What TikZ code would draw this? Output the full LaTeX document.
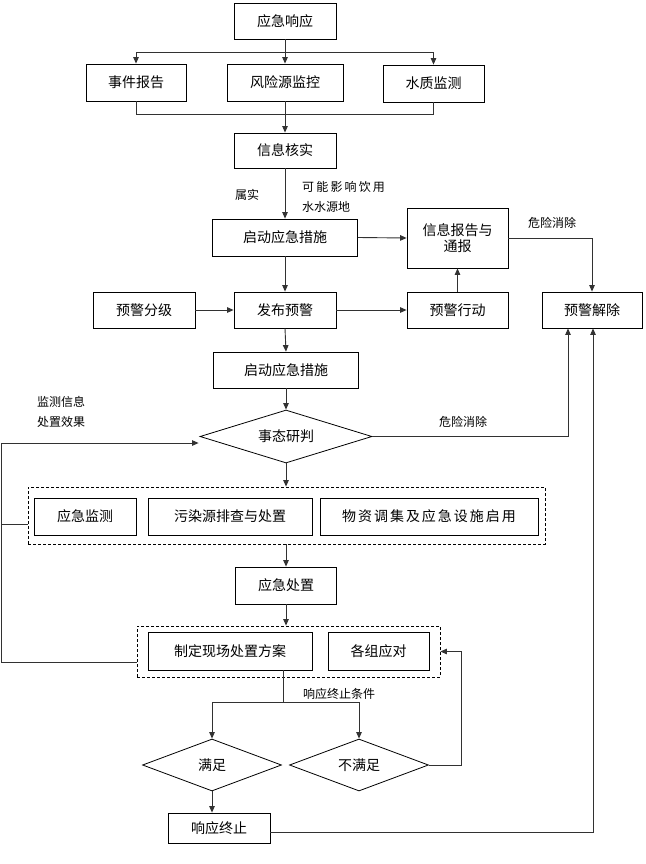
\documentclass[tikz,border=0pt]{standalone}
\usepackage{fontspec}
\setmainfont{Noto Sans CJK SC}
\usetikzlibrary{shapes.geometric,arrows.meta}
\begin{document}
\begin{tikzpicture}[x=1pt,y=-1pt,
  box/.style={draw=black, line width=0.8pt, inner sep=0pt, font=\fontsize{14}{16}\selectfont, align=center},
  dia/.style={draw=black, line width=0.8pt, diamond, aspect=3, inner sep=0pt, font=\fontsize{14}{16}\selectfont},
  dbox/.style={draw=black, line width=0.8pt, dash pattern=on 3pt off 2pt, inner sep=0pt},
  lab/.style={font=\fontsize{12}{14}\selectfont, inner sep=0pt},
  con/.style={draw={rgb,255:red,50;green,50;blue,50}, line width=0.9pt},
  arr/.style={con, -{Triangle[length=6.5pt,width=5.5pt]}}
]
\useasboundingbox (0,0) rectangle (645,864);
% nodes
\node[box, minimum width=102pt, minimum height=36pt] (r) at (285,21) {应急响应};
\node[box, minimum width=100pt, minimum height=37pt] (a1) at (136,82.5) {事件报告};
\node[box, minimum width=116pt, minimum height=37pt] (a2) at (285,82.5) {风险源监控};
\node[box, minimum width=101pt, minimum height=37pt] (a3) at (433.5,83.5) {水质监测};
\node[box, minimum width=102pt, minimum height=35pt] (v) at (285,150.5) {信息核实};
\node[box, minimum width=145pt, minimum height=37pt] (s1) at (285,237.5) {启动应急措施};
\node[box, minimum width=101pt, minimum height=60pt] (rep) at (457.5,238) {信息报告与\\通报};
\node[box, minimum width=102pt, minimum height=36pt] (g) at (144,310) {预警分级};
\node[box, minimum width=102pt, minimum height=36pt] (p) at (285,310) {发布预警};
\node[box, minimum width=101pt, minimum height=36pt] (act) at (457.5,310) {预警行动};
\node[box, minimum width=100pt, minimum height=36pt] (lift) at (592,310) {预警解除};
\node[box, minimum width=145pt, minimum height=36pt] (s2) at (286,370) {启动应急措施};
\node[dia, minimum width=172pt, minimum height=53pt] (d) at (286,436.5) {事态研判};
\node[dbox, minimum width=517pt, minimum height=57pt] (dash1) at (286.5,515.5) {};
\node[box, minimum width=102pt, minimum height=37pt] (m1) at (85,516.5) {应急监测};
\node[box, minimum width=164pt, minimum height=37pt] (m2) at (230,516.5) {污染源排查与处置};
\node[box, minimum width=218pt, minimum height=37pt] (m3) at (429,516.5) {\addfontfeature{LetterSpace=14}物资调集及应急设施启用};
\node[box, minimum width=101pt, minimum height=37pt] (e) at (286,585.5) {应急处置};
\node[dbox, minimum width=303pt, minimum height=51pt] (dash2) at (288.5,651.5) {};
\node[box, minimum width=164pt, minimum height=38pt] (f1) at (230,651) {制定现场处置方案};
\node[box, minimum width=101pt, minimum height=38pt] (f2) at (378.5,651) {各组应对};
\node[dia, minimum width=139pt, minimum height=52pt] (ok) at (212,765) {满足};
\node[dia, minimum width=139pt, minimum height=52pt] (nok) at (359,765) {不满足};
\node[box, minimum width=102pt, minimum height=30pt] (end) at (219,828) {响应终止};
% labels
\node[lab] (l1) at (247,195) {属实};
\node[lab, anchor=west] (l2) at (302,187) {\addfontfeature{LetterSpace=18}可能影响饮用};
\node[lab, anchor=west] (l3) at (302,207) {水水源地};
\node[lab] (l4) at (552,223) {危险消除};
\node[lab] (l5) at (463,422) {危险消除};
\node[lab] (l6) at (61,402) {监测信息};
\node[lab] (l7) at (61,422) {处置效果};
\node[lab] (l8) at (339,694) {响应终止条件};
% connectors
\coordinate (j1) at (285,52);
\draw[con] (r.south) -- (j1);
\draw[arr] (j1) -| (a1.north);
\draw[arr] (j1) -| (a3.north);
\draw[arr] (j1) -- (a2.north);
\coordinate (j2) at (285,114);
\draw[con] (a1.south) |- (j2);
\draw[con] (a3.south) |- (j2);
\draw[arr] (a2.south) -- (v.north);
\draw[arr] (v.south) -- (s1.north);
\draw[arr] (s1.east) -- (rep.west);
\draw[arr] (rep.east) -| (lift.north);
\draw[arr] (s1.south) -- (p.north);
\draw[arr] (g.east) -- (p.west);
\draw[arr] (p.east) -- (act.west);
\draw[arr] (act.north) -- (rep.south);
\draw[arr] (p.south) -- (s2.north);
\draw[arr] (s2.south) -- (d.north);
\draw[arr] (d.east) -| ([xshift=-24pt]lift.south);
\draw[arr] (d.south) -- (d.south |- dash1.north);
\draw[con] ([yshift=-8.5pt]dash1.west) -- (1,524);
\coordinate (lb) at (1,662);
\draw[arr] ([yshift=-10.5pt]dash2.west) -- (lb) -- (1,443) -- ([xshift=-1pt,yshift=-6.5pt]d.west);
\draw[arr] (e.north |- dash1.south) -- (e.north);
\draw[arr] (e.south) -- (e.south |- dash2.north);
\coordinate (j3) at (283,702);
\draw[con] ([xshift=53pt]f1.south) -- (j3);
\draw[arr] (j3) -| (ok.north);
\draw[arr] (j3) -| (nok.north);
\draw[arr] (nok.east) -- ++(33,0) |- (dash2.east);
\draw[arr] (ok.south) -- (ok.south |- end.north);
\draw[arr] ([yshift=-4pt]end.east) -| ([xshift=1pt]lift.south);
\end{tikzpicture}
\end{document}
